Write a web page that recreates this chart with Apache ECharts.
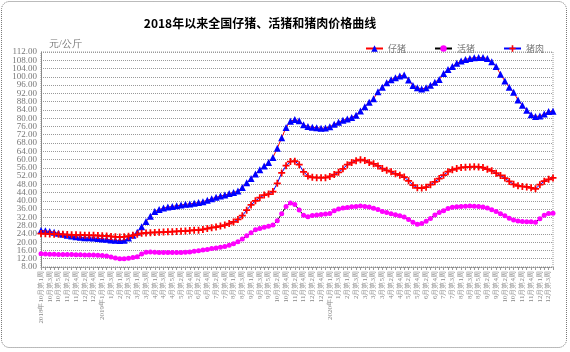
<!DOCTYPE html>
<html><head><meta charset="utf-8">
<script src="https://cdn.jsdelivr.net/npm/echarts@6/dist/echarts.min.js"></script>
<style>html,body{margin:0;padding:0;background:#fff}#c{width:570px;height:352px}</style>
</head><body><div id="c"></div>
<script>
var categories = [
"2018年10月第1周","10月第2周","10月第3周","10月第4周","10月第5周","11月第1周","11月第2周","11月第3周","11月第4周","12月第1周","12月第2周","12月第3周","12月第4周","12月第5周",
"2019年1月第1周","1月第2周","1月第3周","1月第4周","2月第1周","2月第2周","2月第3周","2月第4周","3月第1周","3月第2周","3月第3周","3月第4周",
"4月第1周","4月第2周","4月第3周","4月第4周","4月第5周","5月第1周","5月第2周","5月第3周","5月第4周","6月第1周","6月第2周","6月第3周","6月第4周",
"7月第1周","7月第2周","7月第3周","7月第4周","7月第5周","8月第1周","8月第2周","8月第3周","8月第4周","9月第1周","9月第2周","9月第3周","9月第4周","9月第5周",
"10月第1周","10月第2周","10月第3周","10月第4周","11月第1周","11月第2周","11月第3周","11月第4周","12月第1周","12月第2周","12月第3周","12月第4周","12月第5周",
"2020年1月第1周","1月第2周","1月第3周","1月第4周","2月第1周","2月第2周","2月第3周","2月第4周","3月第1周","3月第2周","3月第3周","3月第4周","3月第5周",
"4月第1周","4月第2周","4月第3周","4月第4周","5月第1周","5月第2周","5月第3周","5月第4周","6月第1周","6月第2周","6月第3周","6月第4周","6月第5周",
"7月第1周","7月第2周","7月第3周","7月第4周","8月第1周","8月第2周","8月第3周","8月第4周","8月第5周","9月第1周","9月第2周","9月第3周","9月第4周",
"10月第1周","10月第2周","10月第3周","10月第4周","11月第1周","11月第2周","11月第3周","11月第4周","11月第5周","12月第1周","12月第2周","12月第3周","12月第4周"
];
var piglet = [
25.7,25.5,25.2,24.8,24.3,23.8,23.3,23.0,22.6,22.4,22.2,22.1,22.0,21.8,21.6,21.4,21.1,20.9,20.8,20.9,
22.0,23.3,24.8,27.5,30.0,32.5,34.8,35.8,36.5,37.0,37.3,37.6,38.0,38.3,38.5,38.8,39.2,39.6,40.3,41.0,
41.7,42.3,42.8,43.5,44.0,44.8,46.5,48.7,50.8,53.0,55.0,56.8,58.5,61.0,65.5,70.5,75.5,78.5,79.3,78.8,
76.8,76.0,75.6,75.4,75.1,75.2,75.8,77.0,78.0,79.0,79.6,80.3,81.4,83.5,85.5,87.7,89.4,92.8,95.0,97.1,
98.6,99.6,100.4,100.9,98.5,95.8,94.7,94.1,94.7,95.9,97.4,98.7,101.6,103.5,105.0,106.5,107.6,108.4,108.9,109.2,
109.3,109.3,108.8,107.3,105.0,101.2,98.0,95.0,92.5,88.8,86.2,83.8,81.6,80.8,81.0,82.0,83.2,83.3
];
var liveHog = [
14.4,14.3,14.2,14.2,14.1,14.1,14.0,14.0,13.9,13.9,13.8,13.8,13.8,13.7,13.6,13.3,12.8,12.3,12.0,12.0,
12.2,12.6,13.0,14.3,15.1,15.2,15.1,15.0,15.0,15.0,15.0,15.0,15.0,15.1,15.3,15.6,15.9,16.2,16.5,16.9,
17.2,17.6,17.9,18.5,19.2,20.2,21.6,23.1,24.6,26.0,26.6,27.2,27.7,28.3,30.4,33.8,37.3,39.0,38.2,35.6,
33.0,32.3,32.9,33.2,33.4,33.6,33.9,35.2,36.0,36.5,36.8,37.1,37.3,37.5,37.3,37.0,36.4,35.8,34.9,34.4,
33.8,33.3,32.8,32.2,31.0,29.7,28.7,29.0,30.1,31.5,33.2,34.4,35.2,36.3,36.9,37.2,37.3,37.4,37.5,37.4,
37.3,37.0,36.5,35.7,34.8,33.8,32.8,31.6,30.7,30.2,30.0,29.9,29.9,29.7,31.4,33.0,33.9,34.0
];
var pork = [
24.2,24.1,24.0,23.9,23.8,23.8,23.7,23.6,23.6,23.5,23.4,23.3,23.3,23.2,23.1,23.0,22.8,22.6,22.5,22.6,
22.9,23.3,23.8,24.3,24.5,24.6,24.7,24.8,24.9,25.0,25.1,25.2,25.3,25.4,25.6,25.8,25.8,26.2,26.6,27.0,
27.3,27.8,28.3,29.0,29.8,31.0,32.8,35.5,38.0,40.0,41.5,42.8,43.3,44.5,48.5,53.5,57.0,59.0,59.2,57.5,
54.0,52.0,51.4,51.2,51.2,51.2,51.8,52.7,53.8,55.5,57.5,58.5,59.4,59.9,59.5,58.6,57.9,56.9,55.6,54.8,
54.1,53.1,52.4,51.5,49.7,47.6,46.3,46.2,46.6,47.8,49.2,50.8,52.4,54.1,55.0,55.6,56.1,56.3,56.4,56.5,
56.4,56.1,55.3,54.5,53.4,52.3,51.0,49.4,48.0,47.3,47.0,46.7,46.3,45.8,47.8,49.5,50.4,51.1
];
var seriesNames = ["仔猪","活猪","猪肉"];
var yMin = 8, yMax = 112, yStep = 4;

var serif = "'Liberation Serif','DejaVu Serif',serif";
var chart = echarts.init(document.getElementById('c'), null, {renderer:'canvas'});
var plusPath = 'path://M3,0H5V3H8V5H5V8H3V5H0V3H3Z';
var yLabelStyle = {fontSize:9, color:'#777', fontFamily:serif, margin:4};
chart.setOption({
  animation:false,
  backgroundColor:'#fff',
  title:{text:'2018年以来全国仔猪、活猪和猪肉价格曲线', left:255, textAlign:'center', top:12,
    textStyle:{fontSize:12, fontWeight:'bold', color:'#000', fontFamily:"'Noto Sans CJK SC',sans-serif"}},
  legend:{left:360, top:39, itemWidth:17, itemHeight:8, itemGap:28,
    textStyle:{fontSize:9, color:'#777', fontFamily:"'Noto Sans CJK SC',serif"},
    data:seriesNames},
  grid:{left:41, right:17, top:52, bottom:85, show:true, borderColor:'#999', borderWidth:1, borderType:'dotted'},
  graphic:[
    {type:'rect', shape:{x:1.5,y:1.5,width:565,height:346,r:8}, style:{fill:'none', stroke:'#777', lineWidth:1, lineDash:[1,1]}, silent:true},
    {type:'text', left:49, top:39, style:{text:'元/公斤', fontSize:10, fill:'#777', fontFamily:serif}}
  ],
  xAxis:{type:'category', data:categories, boundaryGap:false,
    axisLine:{lineStyle:{color:'#888', type:'dotted'}},
    axisTick:{show:true, interval:0, length:3, lineStyle:{color:'#999'}},
    axisLabel:{interval:1, rotate:90, fontSize:7, color:'#888', fontFamily:serif, margin:4},
    splitLine:{show:false}},
  yAxis:[
    {type:'value', min:yMin, max:yMax, interval:yStep, position:'left',
      axisLine:{show:true, lineStyle:{color:'#888'}},
      axisTick:{show:false},
      axisLabel:Object.assign({showMinLabel:false, showMaxLabel:false,
        formatter:function(v){return v.toFixed(2);}}, yLabelStyle),
      splitLine:{lineStyle:{color:'#999', type:'dotted'}}},
    {type:'value', min:yMin, max:yMax, interval:yStep, position:'left', offset:0,
      axisLine:{show:false}, axisTick:{show:false}, splitLine:{show:false},
      axisLabel:Object.assign({showMinLabel:true, showMaxLabel:true,
        formatter:function(v){return (v===yMin||v===yMax) ? v.toFixed(2) : '';}}, yLabelStyle)}
  ],
  series:[
    {name:seriesNames[0], type:'line', data:piglet, symbol:'triangle', symbolSize:7, showAllSymbol:true,
      lineStyle:{color:'#ff0000', width:1}, itemStyle:{color:'#0000ff'}},
    {name:seriesNames[1], type:'line', data:liveHog, symbol:'circle', symbolSize:5, showAllSymbol:true,
      lineStyle:{color:'#000000', width:1}, itemStyle:{color:'#ff00ff'}},
    {name:seriesNames[2], type:'line', data:pork, symbol:plusPath, symbolSize:7, showAllSymbol:true,
      lineStyle:{color:'#0000ff', width:1}, itemStyle:{color:'#ff0000'}}
  ]
});
</script></body></html>
